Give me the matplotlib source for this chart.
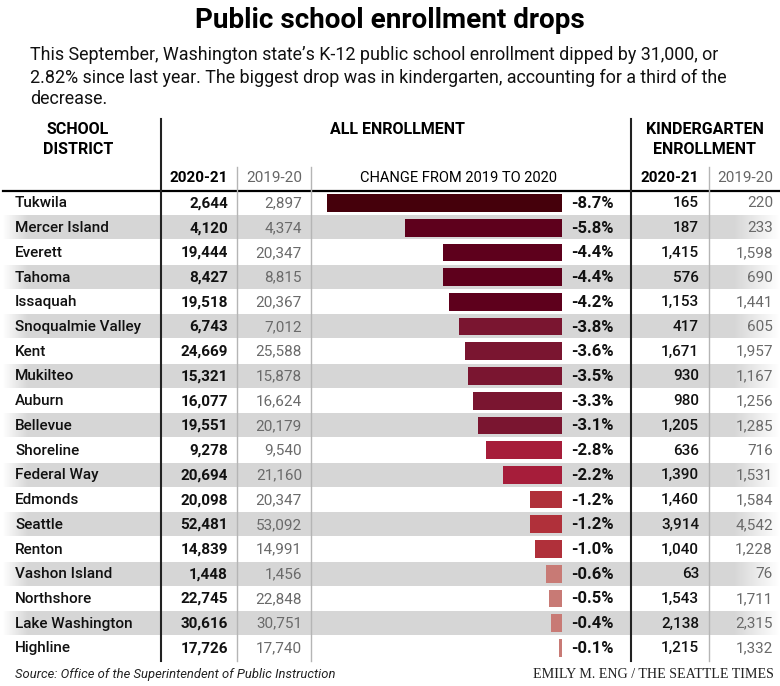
import matplotlib
matplotlib.use("Agg")
import matplotlib.pyplot as plt
import numpy as np
from matplotlib import font_manager as fm

# ---------------- data ----------------
districts = ["Tukwila", "Mercer Island", "Everett", "Tahoma", "Issaquah",
             "Snoqualmie Valley", "Kent", "Mukilteo", "Auburn", "Bellevue",
             "Shoreline", "Federal Way", "Edmonds", "Seattle", "Renton",
             "Vashon Island", "Northshore", "Lake Washington", "Highline"]
all_2020 = [2644, 4120, 19444, 8427, 19518, 6743, 24669, 15321, 16077, 19551,
            9278, 20694, 20098, 52481, 14839, 1448, 22745, 30616, 17726]
all_2019 = [2897, 4374, 20347, 8815, 20367, 7012, 25588, 15878, 16624, 20179,
            9540, 21160, 20347, 53092, 14991, 1456, 22848, 30751, 17740]
change_pct = [-8.7, -5.8, -4.4, -4.4, -4.2, -3.8, -3.6, -3.5, -3.3, -3.1,
              -2.8, -2.2, -1.2, -1.2, -1.0, -0.6, -0.5, -0.4, -0.1]
kinder_2020 = [165, 187, 1415, 576, 1153, 417, 1671, 930, 980, 1205,
               636, 1390, 1460, 3914, 1040, 63, 1543, 2138, 1215]
kinder_2019 = [220, 233, 1598, 690, 1441, 605, 1957, 1167, 1256, 1285,
               716, 1531, 1584, 4542, 1228, 76, 1711, 2315, 1332]

title = "Public school enrollment drops"
subtitle = ["This September, Washington state\u2019s K-12 public school enrollment dipped by 31,000, or",
            "2.82% since last year. The biggest drop was in kindergarten, accounting for a third of the",
            "decrease."]
source = "Source: Office of the Superintendent of Public Instruction"
credit = "EMILY M. ENG / THE SEATTLE TIMES"

# ---------------- fonts ----------------
avail = {f.name for f in fm.fontManager.ttflist}
SANS = "Roboto" if "Roboto" in avail else "DejaVu Sans"
SERIF = "Liberation Serif" if "Liberation Serif" in avail else "DejaVu Serif"
plt.rcParams["font.family"] = [SANS, "DejaVu Sans"]

W, H = 780, 686
fig = plt.figure(figsize=(W / 100, H / 100), dpi=100)
ax = fig.add_axes([0, 0, 1, 1])
ax.set_xlim(0, W)
ax.set_ylim(H, 0)
ax.axis("off")
renderer = fig.canvas.get_renderer()

# row geometry (pixels)
top_y = 190.6
row_h = 24.72
n = len(districts)
bottom_y = top_y + n * row_h


def row_c(i):
    return top_y + row_h * (i + 0.5)


def fit_text(x, y, s, width, size0=12, **kw):
    t = ax.text(x, y, s, fontsize=size0, **kw)
    w = t.get_window_extent(renderer).width
    t.set_fontsize(size0 * width / w)
    return t


# ---------------- bands ----------------
grad_x = np.linspace(0, W, 400)
alpha = np.clip(np.minimum((grad_x - 2) / 25.0, (W - grad_x) / 45.0), 0, 1)
band = np.zeros((1, len(grad_x), 4))
band[..., :3] = np.array([0.84, 0.84, 0.84])
band[..., 3] = alpha
for i in range(n):
    if i % 2 == 1:
        y0 = row_c(i) - 11.8
        y1 = row_c(i) + 11.8
        ax.imshow(band, extent=[0, W, y1, y0], aspect="auto",
                  interpolation="bilinear", zorder=0)
ax.set_xlim(0, W)
ax.set_ylim(H, 0)

# ---------------- lines ----------------
ax.plot([3, W], [top_y, top_y], color="black", lw=1.6, zorder=3)
for xv in (161, 631):
    ax.plot([xv, xv], [119, 661], color="#222222", lw=1.5, zorder=3)
for xv in (237, 311, 709):
    ax.plot([xv, xv], [167, 661], color="#b5b5b5", lw=1.0, zorder=3)

# ---------------- titles ----------------
fit_text(W / 2, 28.5, title, 391, size0=18, ha="center", va="baseline",
         fontweight="bold", color="black")
t1 = fit_text(30, 60, subtitle[0], 687, size0=12, ha="left", va="baseline",
              color="#111111")
ss = t1.get_fontsize()
ax.text(30, 83, subtitle[1], fontsize=ss, ha="left", va="baseline", color="#111111")
ax.text(30, 104, subtitle[2], fontsize=ss, ha="left", va="baseline", color="#111111")

# ---------------- headers ----------------
hs = 11.5
ax.text(78, 129, "SCHOOL", fontsize=hs, fontweight="bold", ha="center", va="center")
ax.text(78, 149, "DISTRICT", fontsize=hs, fontweight="bold", ha="center", va="center")
ax.text(397, 129, "ALL ENROLLMENT", fontsize=hs, fontweight="bold", ha="center", va="center")
ax.text(705, 129, "KINDERGARTEN", fontsize=hs, fontweight="bold", ha="center", va="center")
ax.text(705, 149, "ENROLLMENT", fontsize=hs, fontweight="bold", ha="center", va="center")
ax.text(199, 178, "2020-21", fontsize=11, fontweight="bold", ha="center", va="center")
ax.text(274, 178, "2019-20", fontsize=11, color="#666666", ha="center", va="center")
ax.text(458, 178, "CHANGE FROM 2019 TO 2020", fontsize=10.5, ha="center", va="center")
ax.text(670, 178, "2020-21", fontsize=11, fontweight="bold", ha="center", va="center")
ax.text(745, 178, "2019-20", fontsize=11, color="#666666", ha="center", va="center")

# ---------------- rows ----------------
fs = 11
for i in range(n):
    yc = row_c(i) + 0.5
    ax.text(15, yc, districts[i], fontsize=fs, fontweight="medium", ha="left",
            va="center", color="#111111", zorder=4)
    ax.text(228, yc, f"{all_2020[i]:,}", fontsize=fs, fontweight="bold",
            ha="right", va="center", color="#111111", zorder=4)
    ax.text(302, yc, f"{all_2019[i]:,}", fontsize=fs, ha="right", va="center",
            color="#6a6a6a", zorder=4)
    ax.text(571, yc, f"{change_pct[i]:.1f}%", fontsize=12, fontweight="bold",
            ha="left", va="center", color="#111111", zorder=4)
    ax.text(699, yc, f"{kinder_2020[i]:,}", fontsize=fs, fontweight="medium",
            ha="right", va="center", color="#111111", zorder=4)
    ax.text(773, yc, f"{kinder_2019[i]:,}", fontsize=fs, ha="right", va="center",
            color="#6a6a6a", zorder=4)

# ---------------- bars ----------------
px_per_pct = 27.0
bar_left_px, bar_right_px = 311, 562
bax = fig.add_axes([bar_left_px / W, 1 - bottom_y / H,
                    (bar_right_px - bar_left_px) / W, (bottom_y - top_y) / H])
bax.set_xlim(-(bar_right_px - bar_left_px) / px_per_pct, 0)
bax.set_ylim(n - 0.5, -0.5)
bax.patch.set_alpha(0)
bax.axis("off")


def bar_color(v):
    if v <= -8:
        return "#45000b"
    if v <= -4:
        return "#5e001c"
    if v <= -3:
        return "#7a1530"
    if v <= -2:
        return "#a61d3a"
    if v <= -0.9:
        return "#b0303a"
    return "#c87a75"


bax.barh(np.arange(n), change_pct, height=0.72,
         color=[bar_color(v) for v in change_pct], zorder=2)
for i, v in enumerate(change_pct):
    if abs(v) < 0.2:
        bax.barh(i, -0.09, height=0.72, color=bar_color(v), zorder=2)

# ---------------- footer ----------------
fit_text(15, 678, source, 318, size0=10, ha="left", va="baseline",
         style="italic", color="#222222")
fit_text(774, 678, credit, 239, size0=9, ha="right", va="baseline",
         family=SERIF, color="#222222")

fig.savefig("out.png", dpi=100)
